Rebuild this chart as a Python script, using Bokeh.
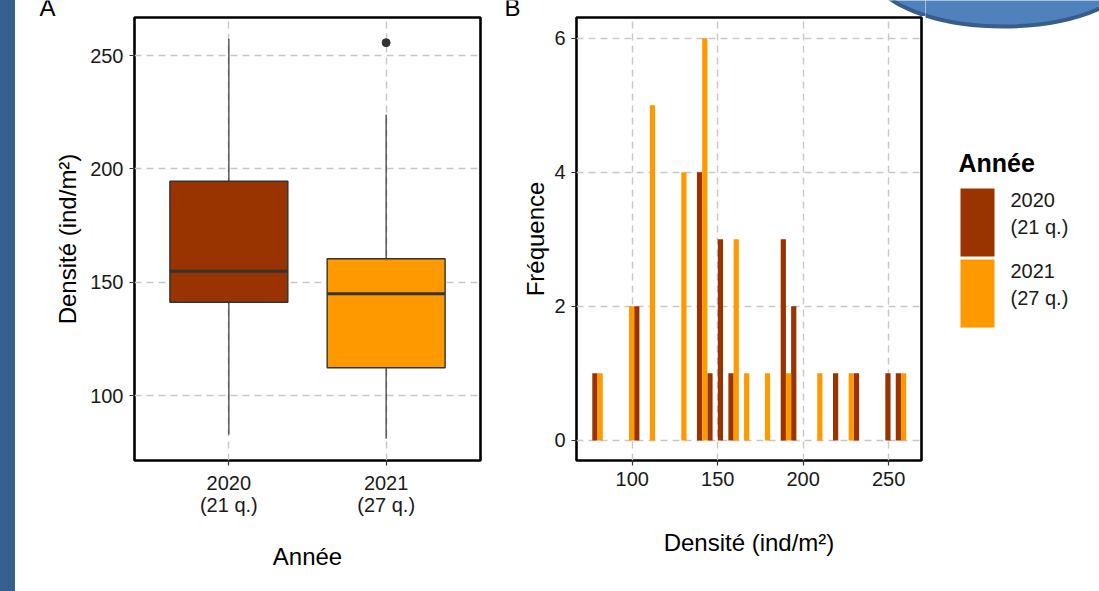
from bokeh.plotting import figure
from bokeh.models import ColumnDataSource, FactorRange, Range1d, FixedTicker, Spacer
from bokeh.layouts import row, column
from bokeh.transform import dodge
from bokeh.core.properties import value
from bokeh.embed import file_html
from bokeh.resources import INLINE

# ---------------- data ----------------
years = ["2020", "2021"]
year_labels = ["2020\n(21 q.)", "2021\n(27 q.)"]
box_q1 = [141.2, 112.3]
box_median = [154.9, 144.9]
box_q3 = [194.6, 160.4]
whisker_low = [82.9, 81.0]
whisker_high = [257.4, 224.0]
outlier_year = ["2021\n(27 q.)"]
outlier_value = [255.7]

bin_width = 6.12
bin_centers = [79.7, 85.8, 91.9, 98.1, 104.2, 110.3, 116.4, 122.5, 128.7, 134.8,
               140.9, 147.0, 153.1, 159.3, 165.4, 171.5, 177.6, 183.7, 189.9, 196.0,
               202.1, 208.2, 214.3, 220.5, 226.6, 232.7, 238.8, 244.9, 251.1, 257.2]
counts_2020 = [1, 0, 0, 0, 2, 0, 0, 0, 0, 0, 4, 1, 3, 1, 0, 0, 0, 0, 3, 2, 0, 0, 0, 1, 0, 1, 0, 0, 1, 1]
counts_2021 = [1, 0, 0, 2, 0, 5, 0, 0, 4, 0, 6, 0, 0, 3, 1, 0, 1, 0, 1, 0, 0, 1, 0, 0, 1, 0, 0, 0, 0, 1]

y_ticks_A = [100, 150, 200, 250]
x_ticks_B = [100, 150, 200, 250]
y_ticks_B = [0, 2, 4, 6]
panel_tags = ["A", "B"]
legend_title = "Année"

# ---------------- styles ----------------
FONT = "Liberation Sans"
COLORS = ["#993300", "#FF9900"]
EDGE = "#333333"
HEAD_H = 16
H = 591 - HEAD_H


def style(p):
    p.outline_line_color = "black"
    p.outline_line_width = 2.6
    p.background_fill_color = "white"
    p.border_fill_color = "white"
    for ax in [p.xaxis[0], p.yaxis[0]]:
        ax.axis_line_color = None
        ax.major_tick_line_color = EDGE
        ax.major_tick_line_width = 1.2
        ax.major_tick_in = 0
        ax.major_tick_out = 5
        ax.minor_tick_line_color = None
        ax.major_label_text_font = FONT
        ax.major_label_text_font_size = "20px"
        ax.major_label_text_color = "#1a1a1a"
        ax.major_label_text_line_height = 1.0
        ax.major_label_standoff = 6
        ax.axis_label_text_font = FONT
        ax.axis_label_text_font_size = "24px"
        ax.axis_label_text_font_style = "normal"
        ax.axis_label_text_color = "black"
    for g in p.grid:
        g.grid_line_color = "#C8C8C8"
        g.grid_line_dash = "7 5"
        g.grid_line_width = 1.4


def decor(p):
    # decorative slide shape (top-right corner), in page pixel coordinates
    p.ellipse(x=[1003], y=[-34], width=[270], height=[120],
              fill_color="#4F81BD", line_color="#385D8A", line_width=4)


def blank(width, height, x0, x1, y_bottom, y_top):
    p = figure(width=width, height=height, x_range=Range1d(x0, x1), y_range=Range1d(y_bottom, y_top),
               x_axis_type=None, y_axis_type=None, output_backend="svg", toolbar_location=None,
               min_border=0, outline_line_color=None, title=None)
    p.grid.visible = False
    p.background_fill_color = "white"
    p.border_fill_color = "white"
    return p


# ---------------- header strip (panel tags) ----------------
head = blank(910, HEAD_H, 15, 925, HEAD_H, 0)
decor(head)
head.text(x=[39, 504], y=[7, 7], text=panel_tags, text_font=value(FONT),
          text_font_size="24px", text_baseline="middle", text_align="left", text_color="black")

# ---------------- panel A : boxplot ----------------
pA = figure(width=493, height=H, title=None,
            x_range=FactorRange(*year_labels, range_padding=0.1),
            y_range=Range1d(71.4, 266.8),
            output_backend="svg", toolbar_location=None,
            min_border_left=119, min_border_right=28, min_border_top=1, min_border_bottom=131)
style(pA)
pA.yaxis.ticker = FixedTicker(ticks=y_ticks_A)
pA.xaxis.axis_label = "Année"
pA.yaxis.axis_label = "Densité (ind/m²)"
pA.xaxis.axis_label_standoff = 24
pA.yaxis.axis_label_standoff = 6

box_src = ColumnDataSource(dict(year=year_labels, q1=box_q1, med=box_median, q3=box_q3,
                                lo=whisker_low, hi=whisker_high, color=COLORS))
pA.segment(x0="year", x1="year", y0="q3", y1="hi", source=box_src, line_color=EDGE, line_width=1.2)
pA.segment(x0="year", x1="year", y0="lo", y1="q1", source=box_src, line_color=EDGE, line_width=1.2)
pA.vbar(x="year", bottom="q1", top="q3", width=0.75, source=box_src,
        fill_color="color", line_color=EDGE, line_width=1.4)
pA.segment(x0=dodge("year", -0.375, range=pA.x_range), x1=dodge("year", 0.375, range=pA.x_range),
           y0="med", y1="med", source=box_src, line_color=EDGE, line_width=3)
pA.scatter(x=outlier_year, y=outlier_value, size=8, fill_color=EDGE, line_color=EDGE)

# ---------------- panel B : histogram ----------------
pB = figure(width=417, height=H, title=None,
            x_range=Range1d(67.4, 269.2), y_range=Range1d(-0.3, 6.31),
            output_backend="svg", toolbar_location=None,
            min_border_left=68, min_border_right=4, min_border_top=1, min_border_bottom=131)
style(pB)
pB.xaxis.ticker = FixedTicker(ticks=x_ticks_B)
pB.yaxis.ticker = FixedTicker(ticks=y_ticks_B)
pB.xaxis.axis_label = "Densité (ind/m²)"
pB.yaxis.axis_label = "Fréquence"
pB.xaxis.axis_label_standoff = 40
pB.yaxis.axis_label_standoff = 2

hist_src = ColumnDataSource(dict(center=bin_centers, c2020=counts_2020, c2021=counts_2021))
pB.vbar(x=dodge("center", -bin_width / 4), top="c2020", width=bin_width / 2, source=hist_src,
        fill_color=COLORS[0], line_color=None)
pB.vbar(x=dodge("center", bin_width / 4), top="c2021", width=bin_width / 2, source=hist_src,
        fill_color=COLORS[1], line_color=None)

# ---------------- legend column (full height, page-pixel coordinates) ----------------
pL = blank(174, 591, 925, 1099, 591, 0)
decor(pL)
key_src = ColumnDataSource(dict(left=[960, 960], right=[994, 994], top=[188, 259], bottom=[256, 327],
                                color=COLORS, lx=[1010, 1010], ly=[213, 284], label=year_labels))
pL.quad(left="left", right="right", top="top", bottom="bottom", fill_color="color",
        line_color=None, source=key_src)
pL.text(x="lx", y="ly", text="label", source=key_src, text_font=value(FONT), text_font_size="20px",
        text_baseline="middle", text_align="left", text_color="#1a1a1a", text_line_height=1.2)
pL.text(x=[958], y=[162.5], text=[legend_title], text_font=value(FONT), text_font_size="25px",
        text_font_style="bold", text_baseline="middle", text_align="left", text_color="black")

strip = Spacer(width=15, height=591, styles={"background-color": "#35608F"})
left_block = column(head, row(pA, pB, spacing=0), spacing=0)
layout = row(strip, left_block, pL, spacing=0)

open("out.html", "w").write(file_html(layout, INLINE))
